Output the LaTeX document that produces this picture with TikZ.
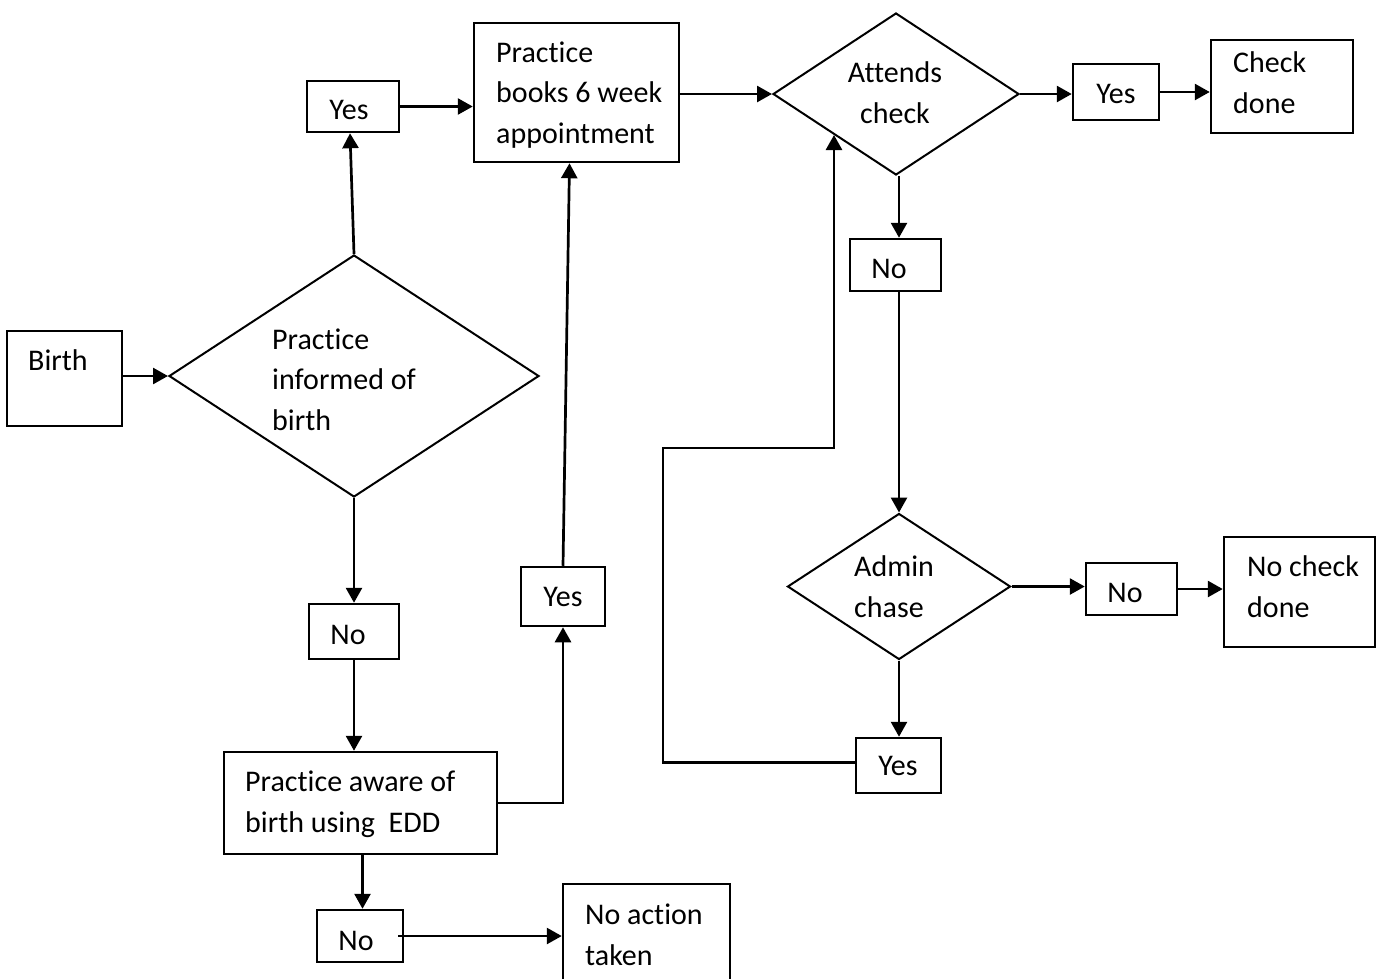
\documentclass[tikz,border=0pt]{standalone}
\usepackage{fontspec}
\setmainfont{Carlito}[Ligatures=NoCommon]
\usetikzlibrary{arrows.meta,shapes.geometric}
\tikzset{
  box/.style={draw, rectangle, line width=2.5pt, inner sep=0pt},
  dia/.style={draw, diamond, line width=2pt, inner sep=0pt},
  arr/.style={line width=2.7pt, -{Triangle[length=15pt,width=16pt]}},
  txt/.style={font=\fontsize{30}{40.5}\selectfont, inner sep=0pt, align=left, anchor=base west},
  ctxt/.style={font=\fontsize{30}{40.5}\selectfont, inner sep=0pt, align=center, anchor=base}
}
\begin{document}
\begin{tikzpicture}[x=1pt,y=-1pt]
\useasboundingbox (0,0) rectangle (1381,978);
% boxes
\node[box, minimum width=115pt, minimum height=95pt] (birth) at (64.5,378.5) {};
\node[box, minimum width=92pt, minimum height=51pt] (yes1) at (353,106.5) {};
\node[box, minimum width=205pt, minimum height=139pt] (books) at (576.5,92.5) {};
\node[box, minimum width=86pt, minimum height=56pt] (yes2) at (1116,92) {};
\node[box, minimum width=142pt, minimum height=93pt] (check) at (1282,86.5) {};
\node[box, minimum width=91pt, minimum height=52pt] (no1) at (895.5,265) {};
\node[box, minimum width=91pt, minimum height=52pt] (no2) at (1131.5,589) {};
\node[box, minimum width=151pt, minimum height=110pt] (nocheck) at (1299.5,592) {};
\node[box, minimum width=85pt, minimum height=55pt] (yes3) at (898.5,765.5) {};
\node[box, minimum width=90pt, minimum height=55pt] (no3) at (354,631.5) {};
\node[box, minimum width=273pt, minimum height=102pt] (aware) at (360.5,803) {};
\node[box, minimum width=84pt, minimum height=59pt] (yes4) at (563,596.5) {};
\node[box, minimum width=86pt, minimum height=52pt] (no4) at (360,936) {};
\node[box, minimum width=167pt, minimum height=106pt] (noaction) at (646.5,937) {};
% diamonds
\node[dia, minimum width=370pt, minimum height=242pt] (d1) at (354,376) {};
\node[dia, minimum width=246pt, minimum height=162pt] (attends) at (896,94) {};
\node[dia, minimum width=223pt, minimum height=146pt] (admin) at (899,586.5) {};
% texts (base anchor = baseline of last line)
\node[txt] (tbirth) at (28,370) {Birth};
\node[txt] (td1) at (272,430) {Practice\\informed of\\birth};
\node[ctxt] (tyes1) at (349,119) {Yes};
\node[txt] (tbooks) at (496,143) {Practice\\books 6 week\\appointment};
\node[ctxt] (tattends) at (895,123) {Attends\\check};
\node[ctxt] (tyes2) at (1116,103) {Yes};
\node[txt] (tcheck) at (1233,113) {Check\\done};
\node[ctxt] (tno1) at (889,278) {No};
\node[txt] (tadmin) at (854,617) {Admin\\chase};
\node[ctxt] (tno2) at (1125,602) {No};
\node[txt] (tnocheck) at (1247,617) {No check\\done};
\node[ctxt] (tyes3) at (898,775) {Yes};
\node[ctxt] (tno3) at (348,644) {No};
\node[ctxt] (tyes4) at (563,606) {Yes};
\node[txt] (taware) at (245,832) {Practice aware of\\birth using\ \ EDD};
\node[ctxt] (tno4) at (356,950) {No};
\node[txt] (tnoaction) at (585,965) {No action\\taken};
% connectors
\draw[arr] (birth.east |- d1.west) -- (d1.west);
\draw[arr] (d1.north) -- ([xshift=-3pt]yes1.south);
\draw[arr] (yes1.east) -- (books.west |- yes1.east);
\draw[arr] (books.east |- attends.west) -- (attends.west);
\draw[arr] (attends.east) -- (yes2.west |- attends.east);
\draw[arr] (yes2.east) -- (check.west |- yes2.east);
\draw[arr] ([xshift=3pt]attends.south) -- ([xshift=3pt]attends.south |- no1.north);
\draw[arr] (no1.south -| admin.north) -- (admin.north);
\draw[arr] (admin.east) -- (no2.west |- admin.east);
\draw[arr] (no2.east) -- (nocheck.west |- no2.east);
\draw[arr] (admin.south) -- (admin.south |- yes3.north);
\coordinate (lA) at (663,448);
\draw[arr] ([yshift=3pt]yes3.west) -| (lA) -- (lA -| attends.south west) -- (attends.south west);
\draw[arr] (d1.south) -- (d1.south |- no3.north);
\draw[arr] (no3.south) -- (no3.south |- aware.north);
\draw[arr] ([xshift=2pt]aware.south) -- ([xshift=2pt]aware.south |- no4.north);
\draw[arr] (aware.east) -| (yes4.south);
\draw[arr] (yes4.north) -- ([xshift=-7pt]books.south);
\draw[arr] ([xshift=-6pt]no4.east) -- (noaction.west |- no4.east);
\end{tikzpicture}
\end{document}
